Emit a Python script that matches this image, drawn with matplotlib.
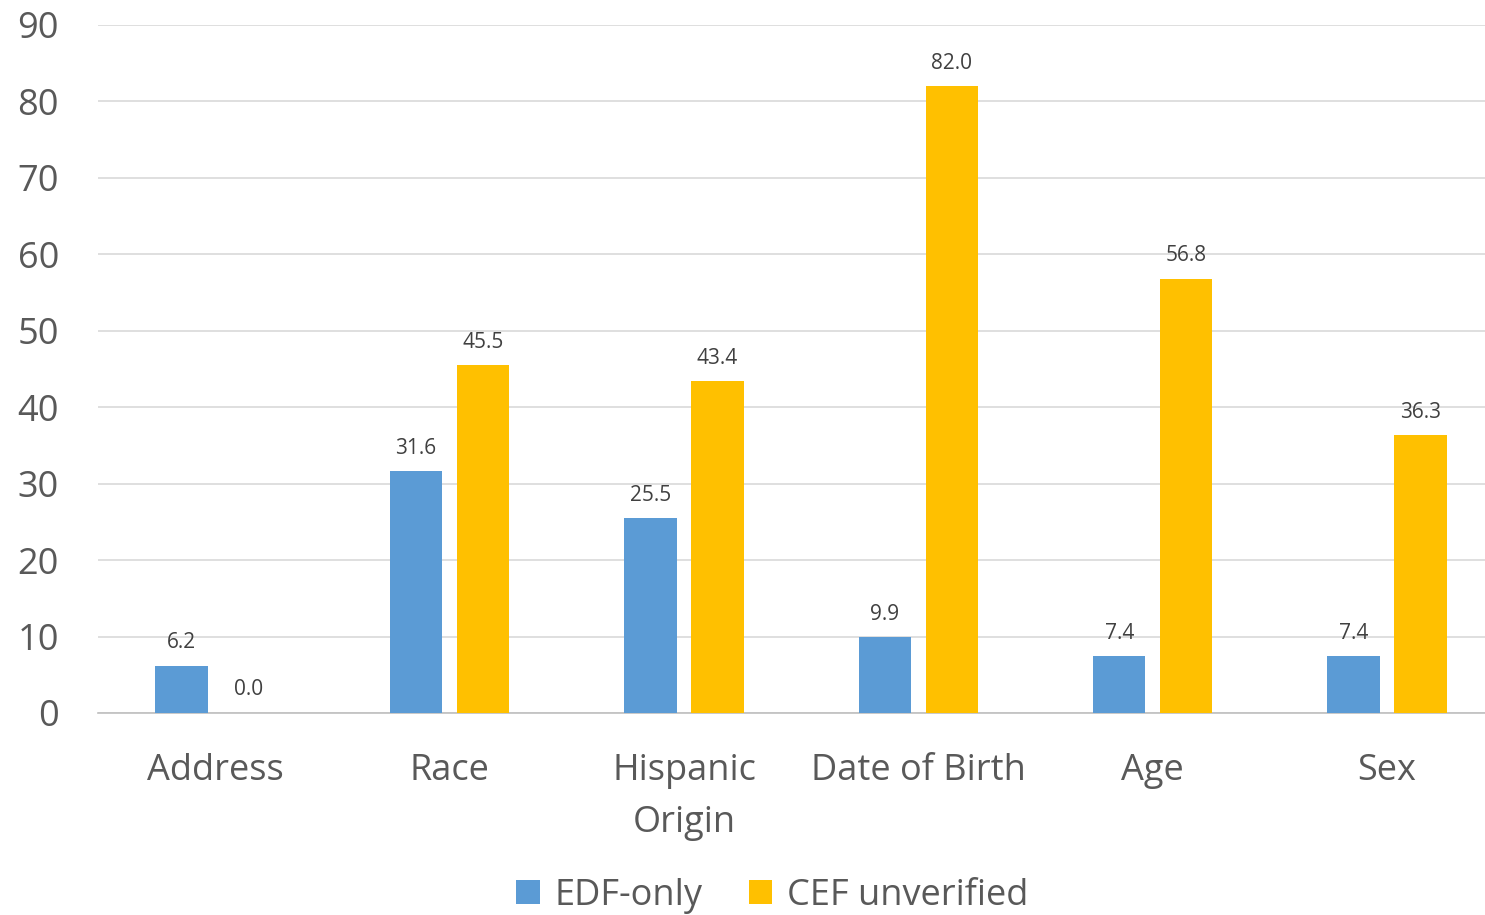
import matplotlib.pyplot as plt
import numpy as np

# =========================
# DATA
# =========================

categories = ["Address", "Race", "Hispanic\nOrigin", "Date of Birth", "Age", "Sex"]
edf_only = [6.2, 31.6, 25.5, 9.9, 7.4, 7.4]
cef_unverified = [0.0, 45.5, 43.4, 82.0, 56.8, 36.3]
series_names = ["EDF-only", "CEF unverified"]

# =========================
# PLOT
# =========================

plt.rcParams['font.family'] = ['Open Sans', 'DejaVu Sans']

fig = plt.figure(figsize=(14.85, 9.15), dpi=100)
ax = fig.add_axes([0.066, 0.2208, 0.947, 0.752])

x = np.arange(len(categories))
w = 0.224
off = 0.143

b1 = ax.bar(x - off, edf_only, w, color="#5B9BD5", label=series_names[0], zorder=3)
b2 = ax.bar(x + off, cef_unverified, w, color="#FFC000", label=series_names[1], zorder=3)

for bars in (b1, b2):
    ax.bar_label(bars, fmt="%.1f", padding=9, fontsize=15, color="#404040")

ax.set_xlim(-0.5, len(categories) - 0.5)
ax.set_ylim(0, 90)
ax.set_yticks(range(0, 91, 10))
ax.set_xticks(x)
ax.set_xticklabels(categories, fontsize=26, color="#595959", linespacing=1.6)
ax.tick_params(axis='y', labelsize=26, labelcolor="#595959", length=0, pad=28)
ax.tick_params(axis='x', length=0, pad=29)

ax.grid(axis='y', color="#D9D9D9", linewidth=1.2, zorder=0)
for s in ['top', 'right', 'left']:
    ax.spines[s].set_visible(False)
ax.spines['bottom'].set_color("#BFBFBF")
ax.spines['bottom'].set_linewidth(1.2)

fig.legend(loc='lower center', bbox_to_anchor=(0.52, -0.034), ncol=2, frameon=False,
           fontsize=26, labelcolor="#595959", handlelength=0.65, handleheight=0.65,
           handletextpad=0.4, columnspacing=1.3)

plt.savefig("out.png", dpi=100)
